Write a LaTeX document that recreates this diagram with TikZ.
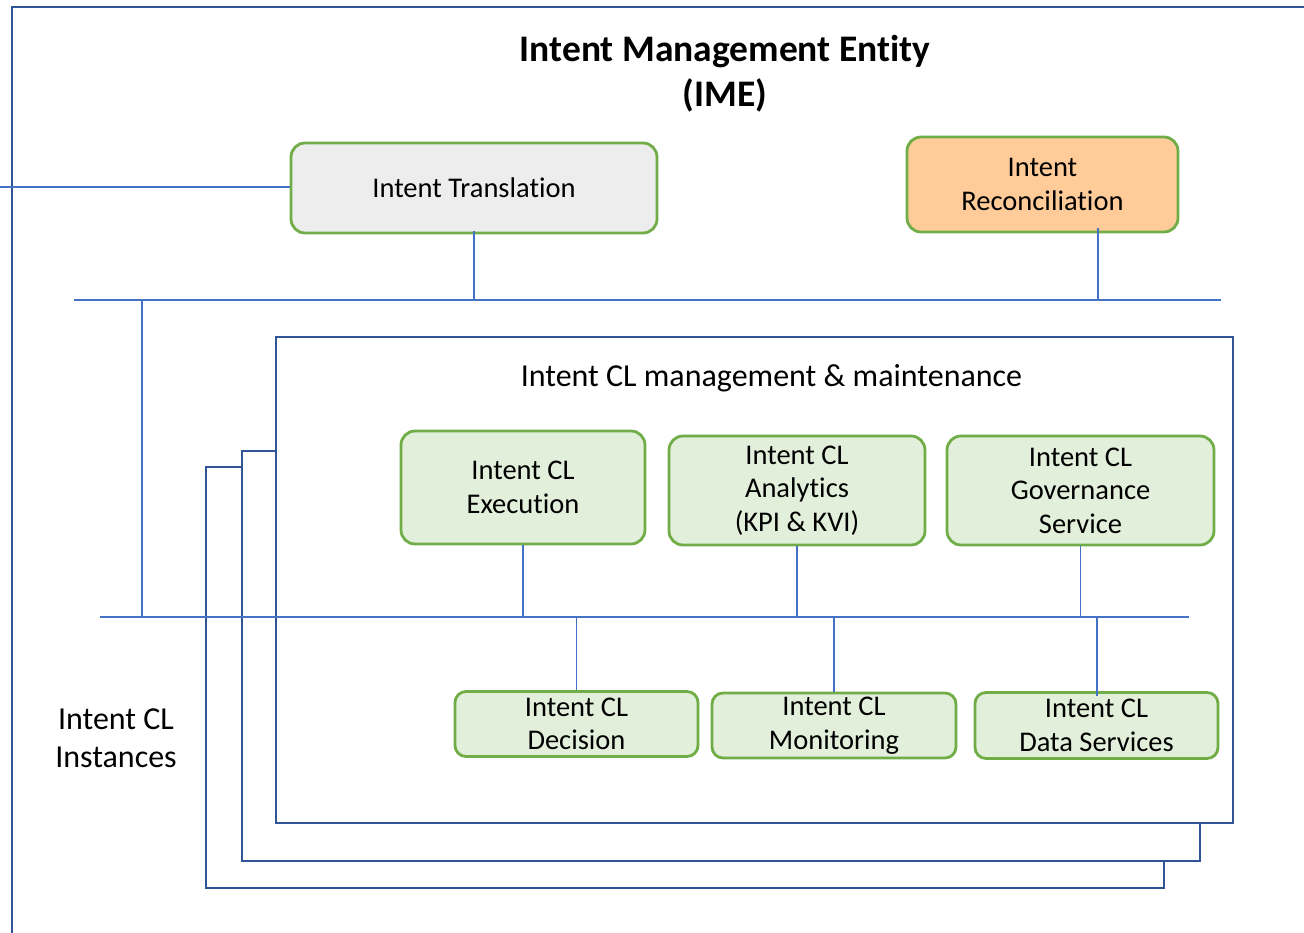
\documentclass[tikz,border=0pt]{standalone}
\usepackage{fontspec}
\setmainfont{Carlito}[Ligatures=NoCommon]
\definecolor{frameblue}{HTML}{2F5597}
\definecolor{linkblue}{HTML}{4472C4}
\definecolor{unitgreen}{HTML}{70AD47}
\definecolor{greenfill}{HTML}{E2EFDA}
\definecolor{greyfill}{HTML}{EDEDED}
\definecolor{orangefill}{HTML}{FFCC99}
\begin{document}
\begin{tikzpicture}[x=1pt,y=-1pt,
  frame/.style={draw=frameblue,line width=2.8pt},
  link/.style={draw=linkblue,line width=1.2pt},
  boxtext/.style={font=\fontsize{28.5}{33.5}\selectfont},
  unit/.style={draw=unitgreen,line width=2.8pt,rounded corners=14pt,
    align=center,inner sep=0pt,fill=greenfill,boxtext},
  smallunit/.style={unit,rounded corners=11pt},
  label/.style={align=center,inner sep=0pt,font=\fontsize{32}{38.5}\selectfont}]
\useasboundingbox (0,0) rectangle (1304,932);

% outer IME frame (runs off the page to the right and bottom)
\draw[frame] (1310,7) -- (12,7) -- (12,940);

% stacked closed-loop instance frames, back to front
\draw[frame] (242,467) -- (206,467) -- (206,888) -- (1164,888) -- (1164,861);
\draw[frame] (276,451) -- (242,451) -- (242,861) -- (1200,861) -- (1200,823);
\draw[frame] (276,337) rectangle (1233,823);

% title
\node[align=center,inner sep=0pt,font=\fontsize{37.5}{45}\selectfont\bfseries]
  (title) at (725,73.5) {Intent Management Entity\\(IME)};

% top-level functions
\node[unit,fill=greyfill,minimum width=366pt,minimum height=90pt]
  (trans) at (474,188) {Intent Translation};
\node[unit,fill=orangefill,minimum width=271pt,minimum height=95pt]
  (recon) at (1042.5,184.5) {Intent\\Reconciliation};

% closed-loop management block
\node[label] (mgmt) at (771.5,378) {Intent CL management \& maintenance};
\node[unit,minimum width=244pt,minimum height=113pt]
  (exec) at (523,487.5) {Intent CL\\Execution};
\node[unit,minimum width=256pt,minimum height=109pt]
  (anal) at (797,490.5) {Intent CL\\Analytics\\(KPI \& KVI)};
\node[unit,minimum width=267pt,minimum height=109pt]
  (gov) at (1080.5,490.5) {Intent CL\\Governance\\Service};
\node[smallunit,minimum width=243pt,minimum height=65pt]
  (dec) at (576.5,724) {Intent CL\\Decision};
\node[smallunit,minimum width=244pt,minimum height=65pt]
  (mon) at (834,725.5) {Intent CL\\Monitoring};
\node[smallunit,minimum width=243pt,minimum height=66pt]
  (data) at (1096.5,725.5) {Intent CL\\Data Services};

\node[label] (inst) at (116,738) {Intent CL\\Instances};

% buses
\coordinate (busA-l) at (74,300);
\coordinate (busA-r) at (1221,300);
\coordinate (busB-l) at (100,617);
\coordinate (busB-r) at (1189,617);
\coordinate (drop) at (142,300);
\coordinate (recdrop) at (1098,228);
\coordinate (datadrop) at (1097,696);
\coordinate (entry) at (0,187);

\draw[link] (busA-l) -- (busA-r);
\draw[link] (busB-l) -- (busB-r);
\draw[link] (drop) -- (drop |- busB-l);
\draw[link] (entry) -- (entry -| trans.west);
\draw[link] ([yshift=3pt]trans.south) -- (trans.south |- busA-l);
\draw[link] (recdrop) -- (recdrop |- busA-l);
\draw[link] (exec.south) -- (exec.south |- busB-l);
\draw[link] (anal.south) -- (anal.south |- busB-l);
\draw[link] (gov.south) -- (gov.south |- busB-l);
\draw[link] (dec.north) -- (dec.north |- busB-l);
\draw[link] (mon.north) -- (mon.north |- busB-l);
\draw[link] (datadrop) -- (datadrop |- busB-l);
\end{tikzpicture}
\end{document}
